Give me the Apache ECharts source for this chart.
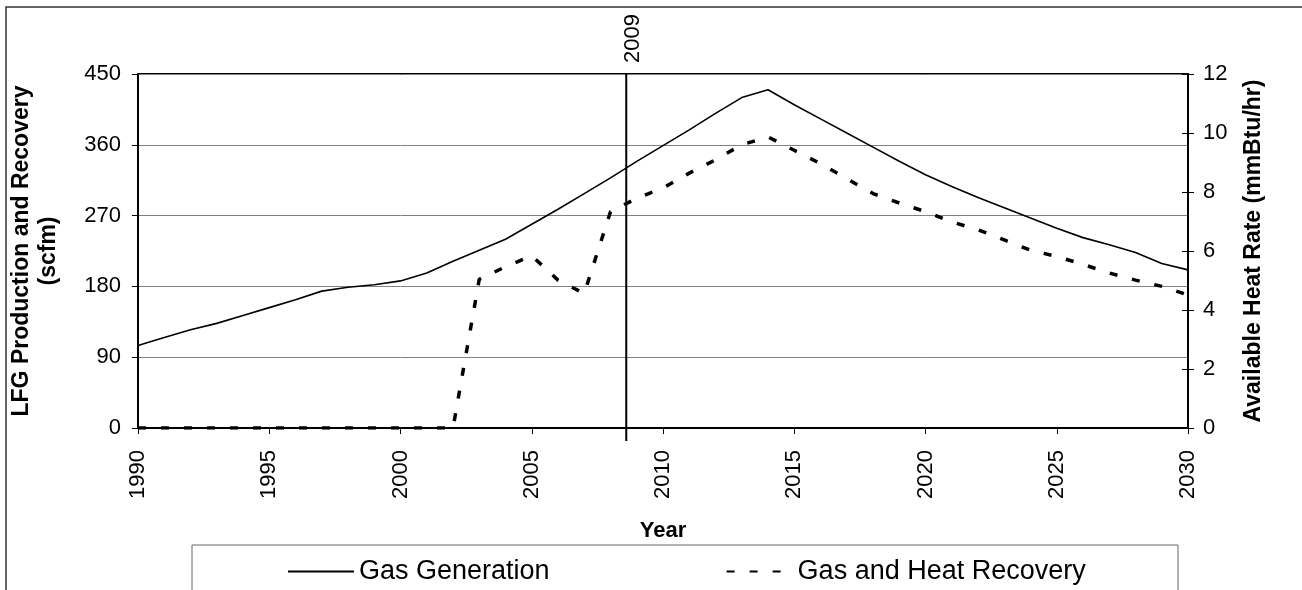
<html>
  <head>
    <meta charset="utf-8" />
    <title>LFG Production and Recovery</title>
    <script src="https://cdn.jsdelivr.net/npm/echarts@6/dist/echarts.min.js"></script>
  </head>
  <body style="margin:0;background:#fff;">
    <div id="main" style="width:1302px;height:590px;"></div>
    <script type="text/javascript">
      // data
      var years = [1990, 1991, 1992, 1993, 1994, 1995, 1996, 1997, 1998, 1999,
                   2000, 2001, 2002, 2003, 2004, 2005, 2006, 2007, 2008, 2009,
                   2010, 2011, 2012, 2013, 2014, 2015, 2016, 2017, 2018, 2019,
                   2020, 2021, 2022, 2023, 2024, 2025, 2026, 2027, 2028, 2029, 2030];
      var gasGeneration = [105, 115, 125, 133, 143, 153, 163, 174, 179, 182,
                           187, 197, 212, 226, 240, 259, 278, 298, 318, 339,
                           359, 379, 400, 420, 430, 411, 393, 375, 357, 339,
                           322, 307, 293, 280, 267, 254, 242, 233, 223, 209, 201];
      var gasHeatRecovery = [0, 0, 0, 0, 0, 0, 0, 0, 0, 0,
                             0, 0, 0, 189, 205, 219, 188, 171, 275, 292,
                             305, 324, 341, 360, 370, 353, 336, 317, 298, 286,
                             275, 262, 252, 239, 226, 218, 208, 197, 188, 180, 169];
      var currentYear = 2008.6;
      var currentLabel = '2009';

      var font = 'Arial, "Liberation Sans", sans-serif';

      function pairs(vals) {
        var out = [];
        for (var i = 0; i < years.length; i++) out.push([years[i], vals[i]]);
        return out;
      }

      var myChart = echarts.init(document.getElementById('main'));
      var option = {
        animation: false,
        textStyle: { fontFamily: font, color: '#000' },
        grid: {
          left: 136, right: 114, top: 74, bottom: 162,
          show: true, borderColor: '#000', borderWidth: 2
        },
        legend: {
          left: 282, top: 553,
          itemWidth: 66, itemHeight: 14, itemGap: 176,
          itemStyle: { opacity: 0 },
          textStyle: { fontSize: 27, fontFamily: font, color: '#000' },
          data: ['Gas Generation', 'Gas and Heat Recovery']
        },
        graphic: [
          { type: 'rect', shape: { x: 6, y: 7, width: 1310, height: 600 },
            style: { fill: 'none', stroke: '#333', lineWidth: 1.5 }, silent: true },
          { type: 'rect', shape: { x: 192, y: 545, width: 986, height: 60 },
            style: { fill: 'none', stroke: '#666', lineWidth: 1 }, silent: true }
        ],
        xAxis: {
          type: 'value', min: 1990, max: 2030, interval: 5,
          name: 'Year', nameLocation: 'middle', nameGap: 92,
          nameTextStyle: { fontSize: 22, fontWeight: 'bold', fontFamily: font, color: '#000' },
          axisLine: { lineStyle: { color: '#000', width: 2 } },
          axisTick: { length: 6, lineStyle: { color: '#000', width: 1 } },
          axisLabel: { rotate: 90, margin: 22, fontSize: 22, color: '#000', fontFamily: font,
                       formatter: function (v) { return String(v); } },
          splitLine: { show: false }
        },
        yAxis: [
          {
            type: 'value', min: 0, max: 450, interval: 90,
            name: 'LFG Production and Recovery\n(scfm)', nameLocation: 'middle', nameGap: 76,
            nameTextStyle: { fontSize: 23, fontWeight: 'bold', lineHeight: 27, fontFamily: font, color: '#000' },
            axisLine: { show: true, lineStyle: { color: '#000', width: 2 } },
            axisTick: { show: true, length: 6, lineStyle: { color: '#000', width: 1 } },
            axisLabel: { margin: 17, fontSize: 22, color: '#000', fontFamily: font },
            splitLine: { lineStyle: { color: '#808080', width: 1 } }
          },
          {
            type: 'value', min: 0, max: 12, interval: 2, position: 'right',
            name: 'Available Heat Rate (mmBtu/hr)', nameLocation: 'middle', nameGap: 54,
            nameTextStyle: { fontSize: 23, fontWeight: 'bold', fontFamily: font, color: '#000' },
            axisLine: { show: true, lineStyle: { color: '#000', width: 2 } },
            axisTick: { show: true, length: 6, lineStyle: { color: '#000', width: 1 } },
            axisLabel: { margin: 15, fontSize: 22, color: '#000', fontFamily: font },
            splitLine: { show: false }
          },
          {
            // inner half of the crossing ticks on the right axis
            type: 'value', min: 0, max: 12, interval: 2, position: 'right',
            axisLine: { show: false },
            axisTick: { show: true, inside: true, length: 6, lineStyle: { color: '#000', width: 1 } },
            axisLabel: { show: false },
            splitLine: { show: false }
          }
        ],
        series: [
          {
            name: 'Gas Generation', type: 'line', symbol: 'none',
            lineStyle: { color: '#000', width: 1.6 },
            itemStyle: { color: '#000' },
            data: pairs(gasGeneration)
          },
          {
            name: 'Gas and Heat Recovery', type: 'line', symbol: 'none',
            lineStyle: { color: '#000', width: 3.5, type: [8, 15] },
            itemStyle: { color: '#000' },
            data: pairs(gasHeatRecovery)
          },
          {
            // vertical marker for the current year
            type: 'custom', clip: false, silent: true,
            data: [[currentYear, 450, 0]],
            renderItem: function (params, api) {
              var top = api.coord([api.value(0), api.value(1)]);
              var bot = api.coord([api.value(0), api.value(2)]);
              return {
                type: 'group',
                children: [
                  { type: 'line', shape: { x1: top[0], y1: top[1], x2: bot[0], y2: bot[1] + 13 },
                    style: { stroke: '#000', lineWidth: 2 } },
                  { type: 'text', x: top[0] + 7, y: top[1] - 11, rotation: Math.PI / 2,
                    style: { text: currentLabel, fontSize: 22, fontFamily: font, fill: '#000',
                             align: 'left', verticalAlign: 'middle' } }
                ]
              };
            }
          }
        ]
      };
      myChart.setOption(option);
    </script>
  </body>
</html>
